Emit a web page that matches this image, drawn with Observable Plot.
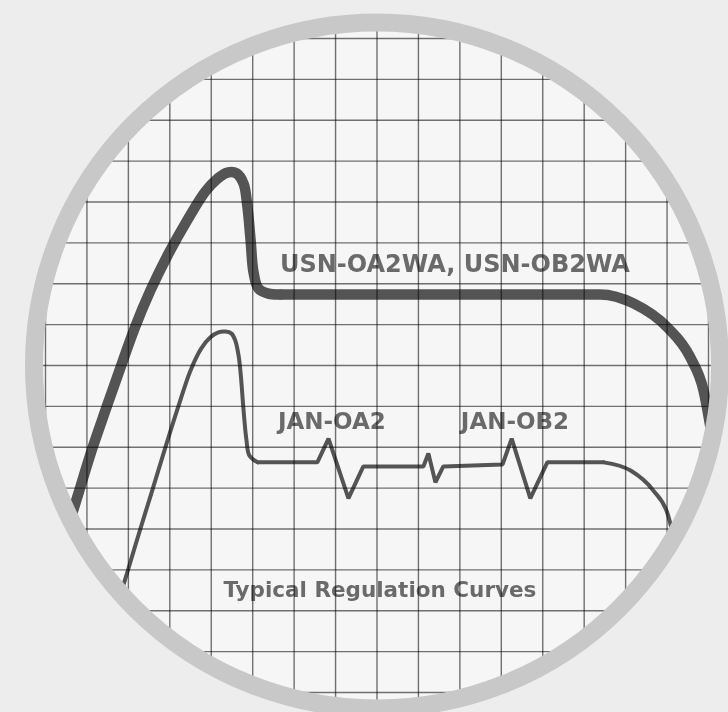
<!DOCTYPE html>
<html><head><meta charset="utf-8">
<script src="https://cdn.jsdelivr.net/npm/d3@7"></script>
<script src="https://cdn.jsdelivr.net/npm/@observablehq/plot@0.6"></script>
<style>
html,body{margin:0;padding:0;background:#ededed;}
#chart{width:728px;height:712px;overflow:hidden;}
svg{display:block}
</style></head><body><div id="chart"></div>
<script>
// Graticule divisions (grid units)
const gridLinesX = [0,1,2,3,4,5,6,7,8,9,10,11,12,13,14,15,16];
const gridLinesY = [0,1,2,3,4,5,6,7,8,9,10,11,12,13,14,15,16];

// USN-OA2WA / USN-OB2WA curve (thick), in grid divisions: rise/peak/drop, then plateau/tail
const usnRiseX = [0.41,0.80,1.13,1.47,1.81,2.15,2.53,2.97,3.43,3.86,4.15,4.39,4.61,4.78,4.87,4.95,5.02,5.14,5.38,5.67];
const usnRiseY = [3.60,4.89,5.97,6.97,7.95,8.91,9.83,10.74,11.57,12.26,12.57,12.72,12.70,12.45,11.91,11.06,10.28,9.88,9.76,9.74];
const usnFlatX = [5.67,8.57,12.19,13.39,14.19,15.01,15.56,15.88,16.10];
const usnFlatY = [9.74,9.74,9.74,9.74,9.52,8.93,8.20,7.39,6.17];

// JAN-OA2 / JAN-OB2 curve (thin): rise, zig-zag plateau, tail
const janRiseX = [1.76,1.98,2.27,2.56,2.87,3.19,3.50,3.76,3.98,4.17,4.34,4.49,4.58,4.66,4.71,4.78,4.85,4.92,5.12];
const janRiseY = [2.23,2.96,3.94,4.89,5.92,6.95,7.88,8.42,8.69,8.81,8.83,8.78,8.61,8.24,7.80,6.90,6.17,5.80,5.63];
const janZigX = [5.12,6.56,6.83,7.31,7.67,9.12,9.24,9.41,9.60,11.03,11.25,11.70,12.11,13.47];
const janZigY = [5.63,5.63,6.21,4.75,5.53,5.53,5.85,5.14,5.53,5.58,6.21,4.75,5.63,5.63];
const janTailX = [13.47,14.12,14.67,15.01,15.18,15.27];
const janTailY = [5.63,5.43,4.94,4.38,3.72,3.35];

// Labels
const bigLabels = ["USN-OA2WA, USN-OB2WA","JAN-OA2","JAN-OB2"];
const bigLabelX = [9.88,6.91,11.33];
const bigLabelY = [10.48,6.62,6.62];
const bigLabelSize = [24,23,23];
const captionText = ["Typical Regulation Curves"];
const captionX = [8.07];
const captionY = [2.50];

const center = [{x: 8, y: 8}];
const pts = (xs, ys) => xs.map((x, i) => ({x, y: ys[i]}));
const labels = bigLabels.map((t, i) => ({t, x: bigLabelX[i], y: bigLabelY[i], s: bigLabelSize[i]}));
const caption = captionText.map((t, i) => ({t, x: captionX[i], y: captionY[i]}));

const ink = "#545454";
const textInk = "#6a6a6a";
const thick = {stroke: ink, strokeWidth: 10.5, strokeLinejoin: "round", strokeLinecap: "round"};
const thin = {stroke: ink, strokeWidth: 4, strokeLinejoin: "round", strokeLinecap: "round"};

const chart = Plot.plot({
  width: 728,
  height: 712,
  margin: 0,
  style: {background: "transparent", overflow: "visible"},
  x: {domain: [0, 16], range: [45, 708], axis: null},
  y: {domain: [0, 16], range: [692, 38], axis: null},
  marks: [
    // screen face
    Plot.dot(center, {x: "x", y: "y", r: 340, fill: "#f6f6f6", stroke: "none"}),
    // traces
    Plot.line(pts(usnRiseX, usnRiseY), {x: "x", y: "y", curve: "catmull-rom", ...thick}),
    Plot.line(pts(usnFlatX, usnFlatY), {x: "x", y: "y", curve: "monotone-x", ...thick}),
    Plot.line(pts(janRiseX, janRiseY), {x: "x", y: "y", curve: "catmull-rom", ...thin}),
    Plot.line(pts(janZigX, janZigY), {x: "x", y: "y", curve: "linear", ...thin, strokeLinejoin: "miter"}),
    Plot.line(pts(janTailX, janTailY), {x: "x", y: "y", curve: "monotone-x", ...thin}),
    // labels
    Plot.text(labels.filter(d => d.s === 24), {x: "x", y: "y", text: "t", fontSize: 24, fontWeight: "bold", fontFamily: "DejaVu Sans", fill: textInk}),
    Plot.text(labels.filter(d => d.s === 23), {x: "x", y: "y", text: "t", fontSize: 23, fontWeight: "bold", fontFamily: "DejaVu Sans", fill: textInk}),
    Plot.text(caption, {x: "x", y: "y", text: "t", fontSize: 21.5, fontWeight: "bold", fontFamily: "DejaVu Sans", fill: textInk}),
    // graticule overlay
    Plot.ruleX(gridLinesX, {x: d => d, stroke: "#747474", strokeWidth: 1.4, mixBlendMode: "multiply"}),
    Plot.ruleY(gridLinesY, {y: d => d, stroke: "#747474", strokeWidth: 1.4, mixBlendMode: "multiply"}),
    // mask outside the bezel
    Plot.dot(center, {x: "x", y: "y", r: 520, fill: "none", stroke: "#ededed", strokeWidth: 370}),
    // bezel ring
    Plot.dot(center, {x: "x", y: "y", r: 343, fill: "none", stroke: "#c8c8c8", strokeWidth: 18})
  ]
});
document.getElementById("chart").appendChild(chart);
</script>
</body></html>
